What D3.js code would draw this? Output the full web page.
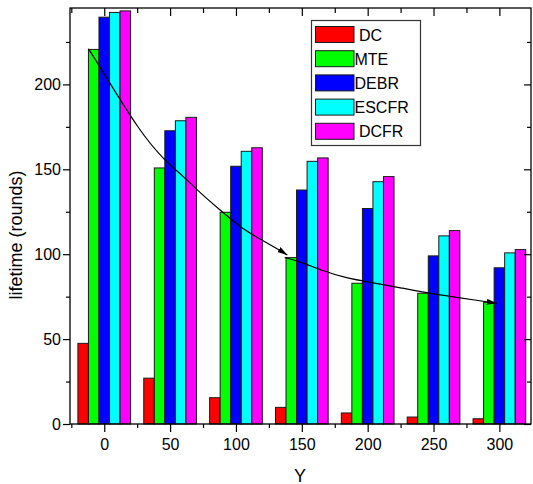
<!DOCTYPE html>
<html>
<head>
<meta charset="utf-8">
<script src="https://cdn.jsdelivr.net/npm/d3@7"></script>
<style>
  html, body { margin: 0; padding: 0; background: #fff; }
  svg { display: block; font-family: "Liberation Sans", Arial, sans-serif; }
</style>
</head>
<body>
<svg id="chart" width="533" height="484"></svg>
<script>
// ---- data ----
const categories = [0, 50, 100, 150, 200, 250, 300];
const seriesNames = [" DC", "MTE", "DEBR", "ESCFR", " DCFR"];
const DC    = [47.5, 27, 15.5, 9.8, 6.5, 4.1, 3.1];
const MTE   = [220.6, 150.8, 124.7, 98, 82.9, 77, 71.6];
const DEBR  = [239.6, 172.7, 151.8, 137.8, 126.9, 99, 92];
const ESCFR = [242.4, 178.6, 160.6, 154.7, 142.7, 110.8, 100.8];
const DCFR  = [243.3, 180.6, 162.7, 156.7, 145.7, 113.9, 102.7];
const seriesValues = [DC, MTE, DEBR, ESCFR, DCFR];
const seriesColors = ["#ff0000", "#00ff00", "#0000ff", "#00ffff", "#ff00ff"];
const xTicks = [0, 50, 100, 150, 200, 250, 300];
const xMinor = [-25, 25, 75, 125, 175, 225, 275];
const yTicks = [0, 50, 100, 150, 200];
const yMinor = [25, 75, 125, 175, 225];
// trend curves
const trend1X = [-12, -3, 27, 46, 60, 73, 88, 103, 118, 133, 139];
const trend1Y = [221, 210, 172, 155, 146, 136, 126, 116, 109, 102.5, 99.5];
const trend2X = [137, 149, 164, 184, 204, 225, 245, 265, 285, 298];
const trend2Y = [98, 95.6, 90.7, 85.8, 83.2, 80.2, 77.3, 74.9, 72.6, 71.1];

// ---- layout ----
const L = 70, R = 531, T = 8, B = 424;
const svg = d3.select("#chart");
const x = d3.scaleLinear().domain([-26, 324]).range([L, R]);
const y = d3.scaleLinear().domain([0, 245]).range([B, T]);
const barW = 8;              // bar width in data units
const nS = seriesValues.length;

// bars
seriesValues.forEach((vals, si) => {
  const off = (si - nS / 2) * barW;
  svg.append("g").selectAll("rect").data(vals).enter().append("rect")
    .attr("x", (d, i) => x(categories[i] + off))
    .attr("width", (d, i) => x(categories[i] + off + barW) - x(categories[i] + off))
    .attr("y", d => y(d))
    .attr("height", d => y(0) - y(d))
    .attr("fill", seriesColors[si])
    .attr("stroke", "#1a1a1a")
    .attr("stroke-width", 1);
});

// arrow marker
const defs = svg.append("defs");
defs.append("marker")
  .attr("id", "arr")
  .attr("viewBox", "0 0 10 6")
  .attr("refX", 10).attr("refY", 3)
  .attr("markerWidth", 10).attr("markerHeight", 6)
  .attr("markerUnits", "userSpaceOnUse")
  .attr("orient", "auto")
  .append("path").attr("d", "M0,0 L10,3 L0,6 Z").attr("fill", "#000");

const line = d3.line().x(d => x(d[0])).y(d => y(d[1])).curve(d3.curveBasis);
[[trend1X, trend1Y], [trend2X, trend2Y]].forEach(([xs, ys]) => {
  svg.append("path")
    .attr("d", line(xs.map((v, i) => [v, ys[i]])))
    .attr("fill", "none").attr("stroke", "#000").attr("stroke-width", 1.2)
    .attr("marker-end", "url(#arr)");
});

// axes
function styleAxis(g) {
  g.select(".domain").remove();
  g.selectAll("line").attr("stroke", "#000").attr("stroke-width", 1.2);
  g.selectAll("text").attr("font-size", 16).attr("fill", "#000")
    .attr("font-family", "'Liberation Sans', Arial, sans-serif");
}
// bottom
svg.append("g").attr("transform", `translate(0,${B})`)
  .call(d3.axisBottom(x).tickValues(xTicks).tickSize(8).tickPadding(7).tickFormat(d3.format("d")))
  .call(styleAxis);
svg.append("g").attr("transform", `translate(0,${B})`)
  .call(d3.axisBottom(x).tickValues(xMinor).tickSize(4).tickFormat(""))
  .call(styleAxis);
// top (inward)
svg.append("g").attr("transform", `translate(0,${T})`)
  .call(d3.axisBottom(x).tickValues(xTicks).tickSize(8).tickFormat(""))
  .call(styleAxis);
svg.append("g").attr("transform", `translate(0,${T})`)
  .call(d3.axisBottom(x).tickValues(xMinor).tickSize(5).tickFormat(""))
  .call(styleAxis);
// left
svg.append("g").attr("transform", `translate(${L},0)`)
  .call(d3.axisLeft(y).tickValues(yTicks).tickSize(7).tickPadding(2).tickFormat(d3.format("d")))
  .call(styleAxis);
svg.append("g").attr("transform", `translate(${L},0)`)
  .call(d3.axisLeft(y).tickValues(yMinor).tickSize(4).tickFormat(""))
  .call(styleAxis);
// right (inward)
svg.append("g").attr("transform", `translate(${R},0)`)
  .call(d3.axisLeft(y).tickValues(yTicks).tickSize(7).tickFormat(""))
  .call(styleAxis);
svg.append("g").attr("transform", `translate(${R},0)`)
  .call(d3.axisLeft(y).tickValues(yMinor).tickSize(4).tickFormat(""))
  .call(styleAxis);

// frame
svg.append("rect").attr("x", L).attr("y", T).attr("width", R - L).attr("height", B - T)
  .attr("fill", "none").attr("stroke", "#000").attr("stroke-width", 1.3);

// axis titles
svg.append("text").attr("transform", "translate(21.5,235) rotate(-90)")
  .attr("text-anchor", "middle").attr("font-size", 18).attr("fill", "#000")
  .text("lifetime (rounds)");
svg.append("text").attr("x", 300).attr("y", 481.5)
  .attr("text-anchor", "middle").attr("font-size", 18).attr("fill", "#000")
  .text("Y");

// legend
const lg = svg.append("g");
lg.append("rect").attr("x", 311.5).attr("y", 20.5).attr("width", 109).attr("height", 125)
  .attr("fill", "#fff").attr("stroke", "#333").attr("stroke-width", 1.2);
seriesNames.forEach((name, i) => {
  const cy = 34.5 + i * 24.2;
  lg.append("rect").attr("x", 315.5).attr("y", cy - 8).attr("width", 38.5).attr("height", 16)
    .attr("fill", seriesColors[i]).attr("stroke", "#1a1a1a").attr("stroke-width", 1);
  lg.append("text").attr("x", 354.5).attr("y", cy + 6)
    .attr("font-size", 16).attr("fill", "#000")
    .style("white-space", "pre")
    .text(name);
});
</script>
</body>
</html>
